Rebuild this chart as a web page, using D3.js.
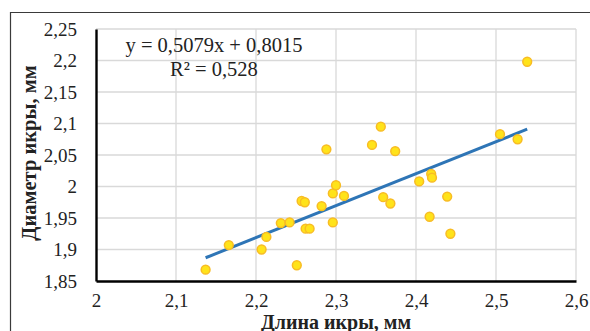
<!DOCTYPE html>
<html>
<head>
<meta charset="utf-8">
<script src="https://cdn.jsdelivr.net/npm/d3@7"></script>
<style>
  body { margin: 0; background: #fff; }
  svg { display: block; font-family: "Liberation Serif", "Times New Roman", serif; }
</style>
</head>
<body>
<div id="chart"></div>
<script>
// egg length vs egg diameter
const eggLength = [2.137, 2.166, 2.207, 2.213, 2.231, 2.242, 2.251, 2.257, 2.261, 2.262,
    2.267, 2.282, 2.288, 2.296, 2.300, 2.310, 2.296, 2.345, 2.356, 2.359,
    2.368, 2.374, 2.404, 2.419, 2.420, 2.417, 2.439, 2.443, 2.505, 2.527, 2.539];
const eggDiameter = [1.868, 1.907, 1.900, 1.920, 1.942, 1.943, 1.875, 1.977, 1.975, 1.933,
    1.933, 1.969, 2.059, 1.989, 2.002, 1.985, 1.943, 2.066, 2.095, 1.983,
    1.973, 2.056, 2.008, 2.020, 2.014, 1.952, 1.984, 1.925, 2.083, 2.075, 2.198];
const xTicks = [2, 2.1, 2.2, 2.3, 2.4, 2.5, 2.6];
const yTicks = [1.85, 1.9, 1.95, 2, 2.05, 2.1, 2.15, 2.2, 2.25];
const slope = 0.5079, intercept = 0.8015;
const equationLines = ["y = 0,5079x + 0,8015", "R² = 0,528"];

const width = 590, height = 331;
const fmt = d => String(d).replace(".", ",");

const svg = d3.select("#chart").append("svg")
    .attr("width", width)
    .attr("height", height);

// outer frame (only top and left visible)
svg.append("path")
    .attr("d", "M10.5,331V12.5H590")
    .attr("fill", "none")
    .attr("stroke", "#3a3a3a")
    .attr("stroke-width", 1.2);

const x = d3.scaleLinear().domain([2, 2.6]).range([96, 576]);
const y = d3.scaleLinear().domain([1.85, 2.25]).range([281, 29]);

// gridlines
svg.append("g").selectAll("line")
    .data(yTicks.slice(1))
    .join("line")
    .attr("x1", x(2)).attr("x2", x(2.6))
    .attr("y1", d => y(d)).attr("y2", d => y(d))
    .attr("stroke", "#d9d9d9").attr("stroke-width", 1.3);
svg.append("g").selectAll("line")
    .data(xTicks.slice(1))
    .join("line")
    .attr("x1", d => x(d)).attr("x2", d => x(d))
    .attr("y1", y(1.85)).attr("y2", y(2.25))
    .attr("stroke", "#d9d9d9").attr("stroke-width", 1.3);

// axes
const yAxis = svg.append("g")
    .attr("transform", `translate(${x(2)},0)`)
    .call(d3.axisLeft(y).tickValues(yTicks).tickFormat(fmt).tickSize(0).tickPadding(19));
const xAxis = svg.append("g")
    .attr("transform", `translate(0,${y(1.85)})`)
    .call(d3.axisBottom(x).tickValues(xTicks).tickFormat(fmt).tickSize(0).tickPadding(13));

[xAxis, yAxis].forEach(a => {
    a.attr("font-family", null).attr("font-size", null);
    a.select(".domain").attr("stroke", "#000").attr("stroke-width", 2.4);
    a.selectAll("text")
        .style("font-family", "'Liberation Serif', serif")
        .style("font-size", "19px")
        .attr("fill", "#222");
});

// trend line
const xr = d3.extent(eggLength);
svg.append("line")
    .attr("x1", x(xr[0])).attr("y1", y(slope * xr[0] + intercept))
    .attr("x2", x(xr[1])).attr("y2", y(slope * xr[1] + intercept))
    .attr("stroke", "#2e75b6")
    .attr("stroke-width", 3);

// points
svg.append("g").selectAll("circle")
    .data(eggLength.map((d, i) => [d, eggDiameter[i]]))
    .join("circle")
    .attr("cx", d => x(d[0]))
    .attr("cy", d => y(d[1]))
    .attr("r", 4.4)
    .attr("fill", "#ffe31a")
    .attr("stroke", "#f8bc24")
    .attr("stroke-width", 1.5);

// equation
svg.append("g").selectAll("text")
    .data(equationLines)
    .join("text")
    .attr("x", 214)
    .attr("y", (d, i) => 52 + i * 24)
    .attr("text-anchor", "middle")
    .attr("font-size", 20.5)
    .attr("fill", "#222")
    .text(d => d);

// axis titles
svg.append("text")
    .attr("x", 336)
    .attr("y", 328.5)
    .attr("text-anchor", "middle")
    .attr("font-size", 20)
    .attr("font-weight", "bold")
    .attr("fill", "#222")
    .text("Длина икры, мм");

svg.append("text")
    .attr("transform", "translate(36,153) rotate(-90)")
    .attr("text-anchor", "middle")
    .attr("font-size", 20.5)
    .attr("font-weight", "bold")
    .attr("fill", "#222")
    .text("Диаметр икры, мм");
</script>
</body>
</html>
